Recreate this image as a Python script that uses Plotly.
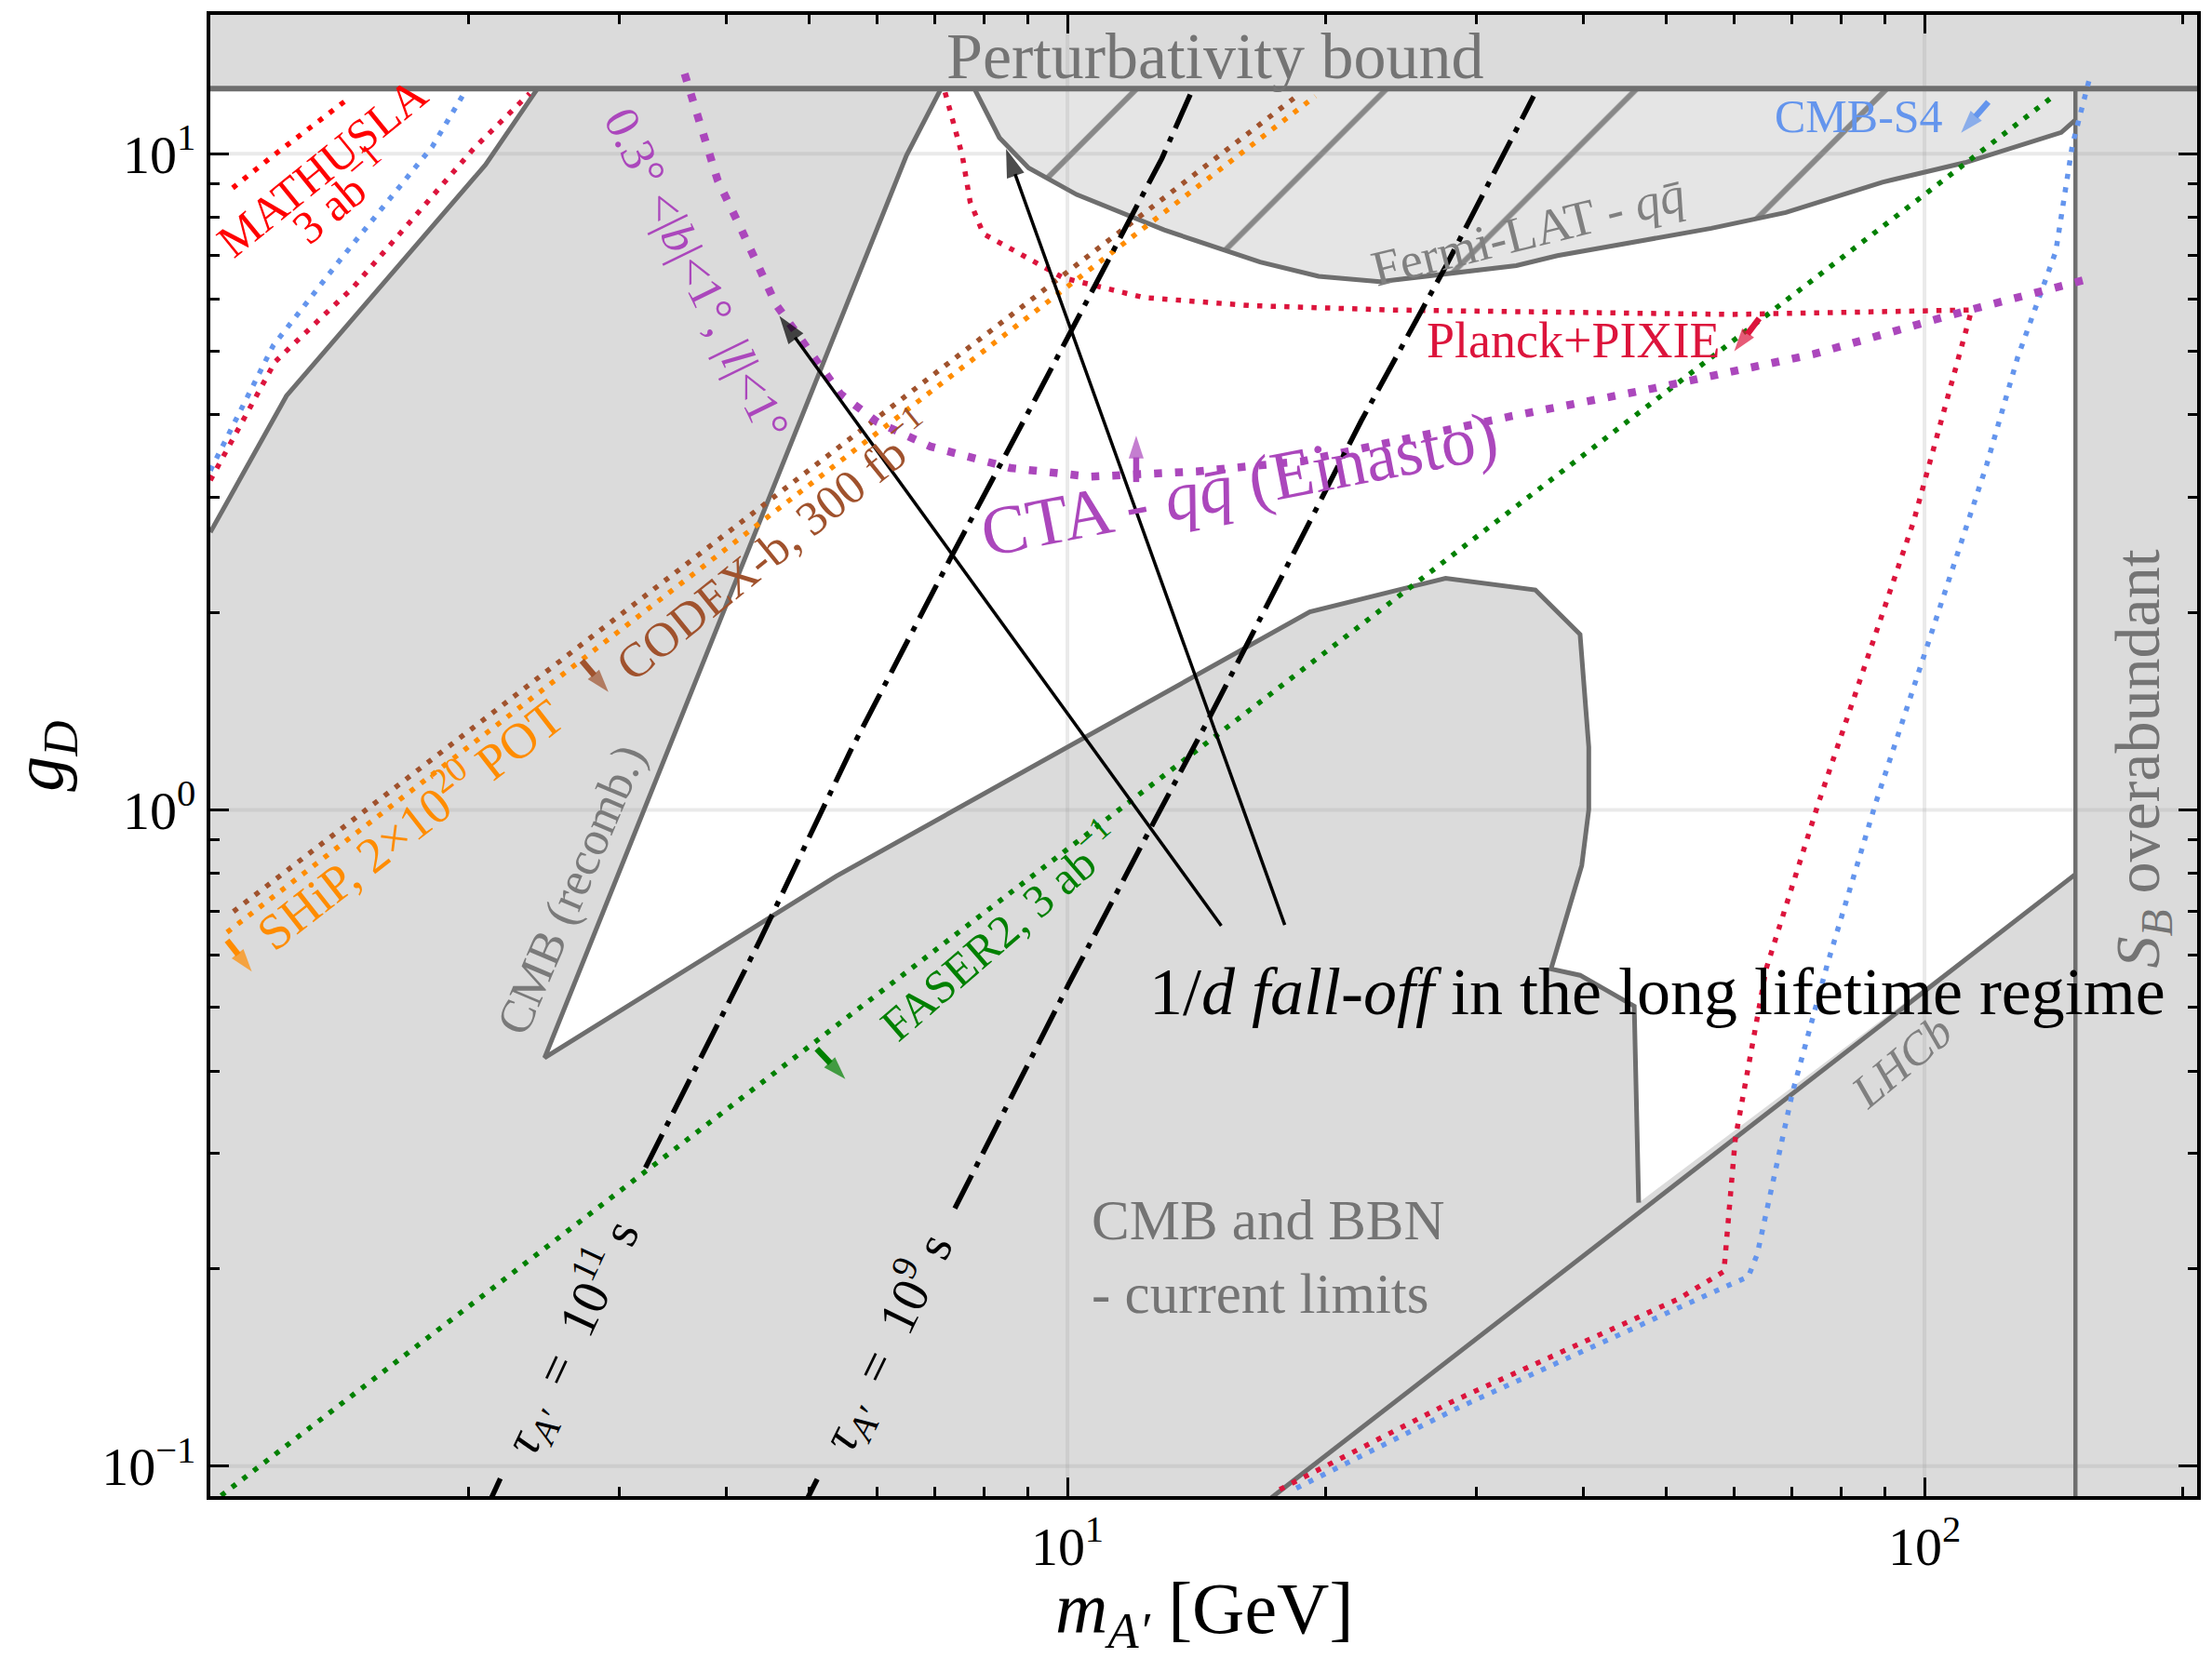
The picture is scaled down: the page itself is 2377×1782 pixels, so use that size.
import numpy as np
import plotly.graph_objects as go

# ---------------- axis extents ----------------
m_range = [1.0, 208.0]          # m_A' [GeV]
g_range = [0.09, 16.28]         # g_D
g_pert = 4 * np.pi              # perturbativity bound
m_sb = 150.0                    # S_B overabundant boundary

# ---------------- allowed (white) regions / boundaries ----------------
wedge_m = [1.0, 1.227, 2.094, 2.408]
wedge_g = [2.65, 4.276, 9.62, 12.566]

cmb_m = [2.455, 6.49, 7.12]
cmb_g = [0.419, 9.94, 12.566]

blob_m = [2.455, 5.37, 19.18, 27.62, 35.15, 39.64, 40.58, 40.58, 39.82, 36.67, 39.64, 45.85, 46.4]
blob_g = [0.419, 0.792, 2.004, 2.255, 2.164, 1.852, 1.246, 1.001, 0.823, 0.5725, 0.5598, 0.5022, 0.252]

fermi_m = [7.79, 8.33, 9.01, 10.25, 12.97, 16.78, 19.64, 23.15, 33.4, 37.3, 56.4, 68.9, 89.3, 111.5, 144.4, 150.0]
fermi_g = [12.566, 10.58, 9.515, 8.667, 7.653, 6.838, 6.505, 6.384, 6.754, 6.995, 7.698, 8.139, 9.05, 9.694, 10.78, 11.26]

lhcb_m = [17.3, 150.0]
lhcb_g = [0.0895, 0.798]

# ---------------- projected sensitivities ----------------
mathusla_m = [1.062, 1.18, 1.458]
mathusla_g = [8.87, 9.90, 12.21]

s4_left_m = [1.0, 1.184, 1.422, 1.816, 1.973]
s4_left_g = [3.29, 5.10, 6.93, 10.26, 12.31]
s4_right_m = [155.5, 148.8, 142.3, 128.4, 118.2, 87.7, 77.0, 70.1, 63.8, 62.3, 56.7, 28.5, 18.3]
s4_right_g = [12.9, 10.32, 7.10, 4.89, 3.36, 1.024, 0.581, 0.370, 0.2103, 0.1944, 0.1842, 0.1225, 0.0919]

pp_left_m = [1.0, 1.19, 1.47, 2.03, 2.358]
pp_left_g = [3.18, 4.82, 6.27, 10.19, 12.36]
pp_right_m = [7.2, 7.54, 7.70, 7.98, 8.70, 9.89, 12.26, 16.32, 23.91, 59.45, 113.5, 97.1, 75.2, 65.35, 60.15, 58.34, 51.6, 27.97, 17.46]
pp_right_g = [12.4, 9.94, 8.45, 7.55, 7.10, 6.47, 6.04, 5.87, 5.78, 5.69, 5.78, 2.75, 1.024, 0.5725, 0.3153, 0.198, 0.1797, 0.125, 0.0913]

faser_m = [1.0, 140.8]
faser_g = [0.0876, 12.19]
ship_m = [1.046, 19.47]
ship_g = [0.651, 12.24]
codex_m = [1.064, 18.51]
codex_g = [0.70, 12.24]

cta_m = [3.576, 3.908, 4.168, 4.572, 5.43, 6.00, 6.92, 8.58, 10.62, 14.14, 18.81, 32.9, 48.3, 74.2, 110.6, 154.3]
cta_g = [13.24, 9.11, 7.65, 5.89, 4.31, 3.90, 3.58, 3.32, 3.22, 3.28, 3.40, 3.98, 4.39, 4.95, 5.74, 6.43]

# ---------------- lifetime contours (with inline-label gaps) ----------------
tau11_m = [2.09, 3.074, 4.377, 5.577, 7.287, 9.252, 12.89, 13.91]
tau11_g = [0.085, 0.2529, 0.6324, 1.2266, 2.404, 4.319, 9.84, 12.31]
tau11_gap = [0.097, 0.285]
tau9_m = [4.88, 7.333, 10.03, 12.38, 14.6, 16.85, 22.01, 27.69, 34.99]
tau9_g = [0.085, 0.2421, 0.542, 0.915, 1.372, 1.976, 3.913, 6.77, 12.24]
tau9_gap = [0.097, 0.247]

# ---------------- ticks ----------------
x_major = [10, 100]
x_major_text = ["10<sup>1</sup>", "10<sup>2</sup>"]
y_major = [0.1, 1, 10]
y_major_text = ["10<sup>−1</sup>", "10<sup>0</sup>", "10<sup>1</sup>"]

# ---------------- colours ----------------
BG = "#dbdbdb"
EDGE = "#6e6e6e"
TXT_GRAY = "#747474"
RED = "#ff0000"
BLUE = "#6495ed"
CRIMSON = "#dc143c"
PURPLE = "#ab47bc"
GREEN = "#008000"
ORANGE = "#ff8c00"
SIENNA = "#a0522d"
FONT = "Liberation Serif"
SP = "\u2002"

fig = go.Figure()


def add_fill(m, g, color, **kw):
    fig.add_trace(go.Scatter(x=m, y=g, mode="lines", fill="toself", fillcolor=color,
                             line=dict(width=0), hoverinfo="skip", showlegend=False, **kw))


def add_line(m, g, color, width, dash="solid"):
    fig.add_trace(go.Scatter(x=m, y=g, mode="lines",
                             line=dict(color=color, width=width, dash=dash),
                             hoverinfo="skip", showlegend=False))


def dotted(w):
    return f"{w}px,{1.65 * w:.1f}px"


def add_arrow(m0, g0, m1, g1, color, width, head):
    fig.add_trace(go.Scatter(x=[m0, m1], y=[g0, g1], mode="lines+markers",
                             line=dict(color=color, width=width),
                             marker=dict(symbol="arrow", size=[0, head], angleref="previous",
                                         color=color, line=dict(width=0)),
                             hoverinfo="skip", showlegend=False))


def split_at_gap(m, g, gap):
    """Split a contour (monotonic in g) into the parts below and above an inline-label gap."""
    lm, lg = np.log10(m), np.log10(g)
    m_lo = 10 ** np.interp(np.log10(gap[0]), lg, lm)
    m_hi = 10 ** np.interp(np.log10(gap[1]), lg, lm)
    g_arr = np.asarray(g)
    m_arr = np.asarray(m)
    low = (list(m_arr[g_arr < gap[0]]) + [m_lo], list(g_arr[g_arr < gap[0]]) + [gap[0]])
    high = ([m_hi] + list(m_arr[g_arr > gap[1]]), [gap[1]] + list(g_arr[g_arr > gap[1]]))
    return low, high


# allowed regions (white)
add_fill(wedge_m + [wedge_m[0]], wedge_g + [wedge_g[-1]], "white")
mid_m = cmb_m + fermi_m + [lhcb_m[1]] + blob_m[::-1]
mid_g = cmb_g + fermi_g + [lhcb_g[1]] + blob_g[::-1]
add_fill(mid_m, mid_g, "white")

# Fermi-LAT excluded (hatched)
fig.add_trace(go.Scatter(x=fermi_m + [m_sb], y=fermi_g + [g_pert], mode="lines", fill="toself",
                         fillcolor="#e5e5e5", line=dict(width=0), hoverinfo="skip", showlegend=False,
                         fillpattern=dict(shape="/", size=190, solidity=0.031, fgcolor="#888888",
                                          bgcolor="#e5e5e5", fillmode="replace")))

# grid lines at decades
for gv in y_major:
    add_line(m_range, [gv, gv], "rgba(150,150,150,0.2)", 4)
for mv in x_major:
    add_line([mv, mv], g_range, "rgba(150,150,150,0.2)", 4)

# boundary lines
add_line(wedge_m, wedge_g, EDGE, 5)
add_line(blob_m[::-1] + cmb_m[1:], blob_g[::-1] + cmb_g[1:], EDGE, 5)
add_line(fermi_m, fermi_g, EDGE, 5)
add_line(lhcb_m, lhcb_g, EDGE, 5)
add_line([m_sb, m_sb], [g_range[0], g_pert], EDGE, 4.5)
add_line(m_range, [g_pert, g_pert], EDGE, 6)

# projected sensitivities (dotted)
add_line(mathusla_m, mathusla_g, RED, 5.5, dotted(5.5))
add_line(s4_left_m, s4_left_g, BLUE, 5.5, dotted(5.5))
add_line(pp_left_m, pp_left_g, CRIMSON, 5.5, dotted(5.5))
add_line(faser_m, faser_g, GREEN, 5.5, dotted(5.5))
add_line(codex_m, codex_g, SIENNA, 5.5, dotted(5.5))
add_line(ship_m, ship_g, ORANGE, 5.5, dotted(5.5))
add_line(pp_right_m, pp_right_g, CRIMSON, 5.5, dotted(5.5))
add_line(s4_right_m, s4_right_g, BLUE, 5.5, dotted(5.5))
add_line(cta_m, cta_g, PURPLE, 8.5, dotted(8.5))

# lifetime contours
for tm, tg, gap in [(tau11_m, tau11_g, tau11_gap), (tau9_m, tau9_g, tau9_gap)]:
    for part_m, part_g in split_at_gap(tm, tg, gap):
        add_line(part_m, part_g, "black", 5.5, "40px,10px,6px,10px")

# arrows
add_arrow(15.12, 0.666, 4.612, 5.662, "black", 3.5, 32)
add_arrow(17.93, 0.668, 8.48, 10.17, "black", 3.5, 32)
add_arrow(118.7, 11.99, 110.3, 10.76, BLUE, 6.5, 26)
add_arrow(64.14, 5.61, 59.98, 5.0, CRIMSON, 6.5, 26)
add_arrow(12.03, 3.16, 12.03, 3.72, PURPLE, 6.5, 26)
add_arrow(2.713, 1.688, 2.914, 1.513, SIENNA, 6.5, 26)
add_arrow(1.046, 0.6326, 1.118, 0.567, ORANGE, 6.5, 26)
add_arrow(5.1, 0.4324, 5.507, 0.3888, GREEN, 6.5, 26)


def label(text, m, g, size, color, angle=0, **kw):
    fig.add_annotation(x=np.log10(m), y=np.log10(g), xref="x", yref="y", text=text,
                       showarrow=False, textangle=angle,
                       font=dict(family=FONT, size=size, color=color), **kw)


label("Perturbativity bound", 14.85, 14.06, 70, TXT_GRAY)
label("MATHUSLA", 1.349, 9.53, 50, RED, -39)
label("3 ab<sup>−1</sup>", 1.419, 8.65, 50, RED, -40)
label("CMB-S4", 83.75, 11.42, 50, BLUE)
label("Fermi-LAT - <i>qq̄</i>", 34.47, 7.62, 54, "#808080", -14)
label("Planck+PIXIE", 38.87, 5.19, 54, CRIMSON)
label("CTA - <i>qq̄</i> (Einasto)", 15.86, 3.14, 74, PURPLE, -11)
label("0.3° <|<i>b</i>|<1°, |<i>l</i>|<1°", 3.693, 6.58, 52, PURPLE, 64)
label("CODEX-b, 300 fb<sup>−1</sup>", 4.527, 2.535, 52, SIENNA, -39)
label("SHiP, 2×10<sup>20</sup> POT", 1.702, 0.957, 54, ORANGE, -38)
label("CMB (recomb.)", 2.64, 0.756, 52, "#7a7a7a", -67)
label("FASER2, 3 ab<sup>−1</sup>", 8.33, 0.656, 50, GREEN, -41)
label("1/<i>d</i> <i>fall-off</i> in the long lifetime regime", 48.82, 0.5287, 72, "black")
label("<i>S</i><sub><i>B</i></sub> overabundant", 179.1, 1.197, 68, TXT_GRAY, -90)
label("<i>LHCb</i>", 94.0, 0.413, 50, "#808080", -40)
label("CMB and BBN<br>- current limits", 10.61, 0.2083, 61, TXT_GRAY, 0, xanchor="left", align="left")
label(f"<i>τ</i><sub><i>A′</i></sub>{SP}={SP}10<sup>11</sup> s", 2.63, 0.1575, 56, "black", -65)
label(f"<i>τ</i><sub><i>A′</i></sub>{SP}={SP}10<sup>9</sup> s", 6.15, 0.1546, 56, "black", -64)

# axis titles
fig.add_annotation(x=-0.0842, y=0.4996, xref="paper", yref="paper", showarrow=False,
                   xanchor="center", yanchor="middle",
                   text="<i>g</i><sub><i>D</i></sub>", textangle=-90,
                   font=dict(family=FONT, size=76, color="black"))
fig.add_annotation(x=0.5, y=-0.079, xref="paper", yref="paper", showarrow=False,
                   xanchor="center", yanchor="middle",
                   text="<i>m</i><sub><i>A′</i></sub> [GeV]",
                   font=dict(family=FONT, size=78, color="black"))

minor_x = [k * 10 ** e for e in range(0, 3) for k in range(2, 10) if k * 10 ** e < m_range[1]]
minor_y = [k * 10 ** e for e in range(-2, 2) for k in range(2, 10) if g_range[0] < k * 10 ** e < g_range[1]]

axis_common = dict(type="log", showgrid=False, zeroline=False, showline=True, linecolor="black",
                   linewidth=4, mirror="allticks", ticks="inside", ticklen=20, tickwidth=3,
                   tickcolor="black", tickmode="array",
                   tickfont=dict(family=FONT, size=58, color="black"))

fig.update_layout(
    width=2377, height=1782,
    margin=dict(l=226, r=13, t=13, b=174),
    paper_bgcolor="white", plot_bgcolor=BG,
    font=dict(family=FONT),
    showlegend=False,
    xaxis=dict(range=[np.log10(m_range[0]), np.log10(m_range[1])], tickvals=x_major,
               ticktext=x_major_text,
               minor=dict(ticks="inside", ticklen=10, tickwidth=2.5, tickcolor="black",
                          tickmode="array", tickvals=minor_x, showgrid=False),
               **axis_common),
    yaxis=dict(range=[np.log10(g_range[0]), np.log10(g_range[1])], tickvals=y_major,
               ticktext=y_major_text,
               minor=dict(ticks="inside", ticklen=10, tickwidth=2.5, tickcolor="black",
                          tickmode="array", tickvals=minor_y, showgrid=False),
               **axis_common),
)

fig.write_html("out.html")
